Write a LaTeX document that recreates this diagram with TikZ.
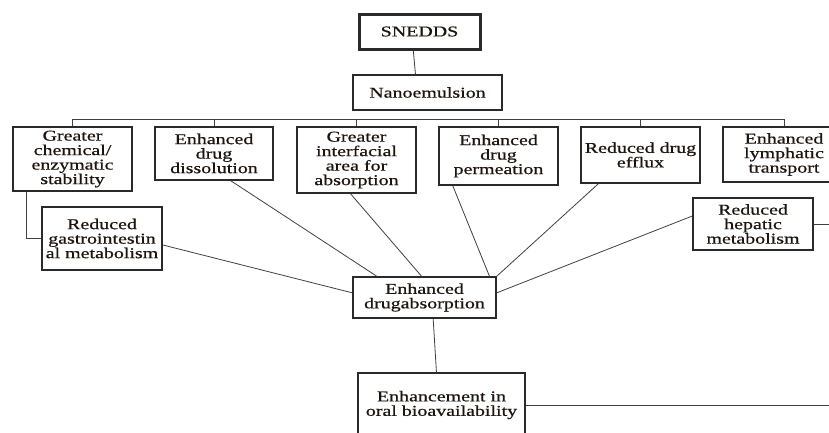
\documentclass[tikz,border=0pt]{standalone}
\usepackage{fontspec}
\setmainfont{Liberation Serif}[FakeStretch=1.33,FakeBold=0.6]
\usetikzlibrary{calc}
\definecolor{boxline}{HTML}{2A2A2A}
\definecolor{txt}{HTML}{1E140E}
\definecolor{conn}{HTML}{404040}
\tikzset{
  box/.style={draw=boxline, line width=1.4pt, fill=white, rectangle, inner sep=0pt,
    align=center, text=txt, font=\fontsize{15}{14.5}\selectfont},
  topbox/.style={box, line width=3pt},
  conn/.style={draw=conn, line width=0.8pt},
}
\begin{document}
\begin{tikzpicture}[x=1pt,y=-1pt]
\useasboundingbox (0,0) rectangle (829,432);
\clip (0,0) rectangle (829,432);
\fill[white] (0,0) rectangle (829,432);
% nodes
\node[topbox, minimum width=121pt, minimum height=35pt] (snedds) at (419.5,31.5) {SNEDDS};
\node[box, minimum width=149pt, minimum height=35pt] (nano) at (427.5,92.5) {Nanoemulsion};
\node[box, minimum width=119pt, minimum height=64pt] (b1) at (72.5,159) {Greater\\chemical/\\enzymatic\\stability};
\node[box, minimum width=118pt, minimum height=53pt] (b2) at (214,153.5) {Enhanced\\drug\\dissolution};
\node[box, minimum width=119pt, minimum height=66pt] (b3) at (356.5,160) {Greater\\interfacial\\area for\\absorption};
\node[box, minimum width=119pt, minimum height=58pt] (b4) at (498.5,156) {Enhanced\\drug\\permeation};
\node[box, minimum width=119pt, minimum height=56pt] (b5) at (640.5,155) {Reduced drug\\efflux};
\node[box, minimum width=122pt, minimum height=55pt] (b6) at (784,154.5) {Enhanced\\lymphatic\\transport};
\node[box, minimum width=120pt, minimum height=63pt] (gi) at (102,238.5) {Reduced\\gastrointestin\\al metabolism};
\node[box, minimum width=120pt, minimum height=52pt] (hep) at (753,224) {Reduced\\hepatic\\metabolism};
\node[box, minimum width=143pt, minimum height=41pt] (abs) at (424.5,297.5) {Enhanced\\drugabsorption};
\node[box, minimum width=167pt, minimum height=64pt] (oral) at (441.5,405) {Enhancement in\\oral bioavailability};
\coordinate (bus) at (0,119);
\coordinate (redge) at (835,0);
% connectors
\draw[conn] ($(snedds.south west)!0.45!(snedds.south east)$) -- ($(nano.north west)!0.42!(nano.north east)$);
\draw[conn] ($(nano.south west)!0.51!(nano.south east)$) -- ($(nano.south west)!0.51!(nano.south east)$ |- bus);
\draw[conn] (b1.north |- bus) -- (b6.north |- bus);
\foreach \b in {b1,b2,b3,b4,b5,b6} \draw[conn] (\b.north |- bus) -- (\b.north);
\draw[conn] ($(b1.south west)!0.12!(b1.south east)$) |- (gi.west);
\draw[conn] ($(b2.south west)!0.64!(b2.south east)$) -- ($(abs.north west)!0.17!(abs.north east)$);
\draw[conn] ($(b3.south west)!0.45!(b3.south east)$) -- ($(abs.north west)!0.48!(abs.north east)$);
\draw[conn] ($(b4.south west)!0.12!(b4.south east)$) -- ($(abs.north west)!0.95!(abs.north east)$);
\draw[conn] ($(b5.south west)!0.15!(b5.south east)$) -- (abs.north east);
\draw[conn] ($(gi.north east)!0.6!(gi.south east)$) -- ($(abs.north west)!0.39!(abs.south west)$);
\draw[conn] ($(hep.north west)!0.35!(hep.south west)$) -- ($(abs.north east)!0.39!(abs.south east)$);
\draw[conn] ($(abs.south west)!0.56!(abs.south east)$) -- ($(oral.north west)!0.47!(oral.north east)$);
\draw[conn] (hep.east) -- (hep.east -| redge);
\draw[conn] (oral.east) -- (oral.east -| redge);
\end{tikzpicture}
\end{document}
